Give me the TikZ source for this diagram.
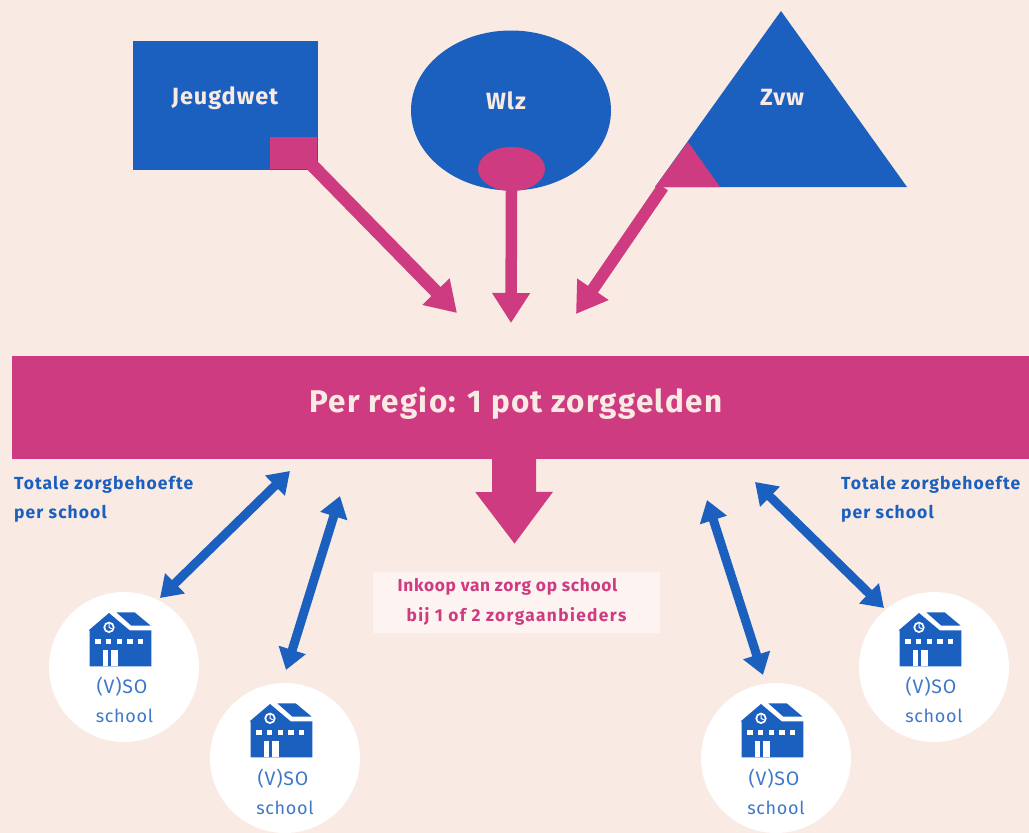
\documentclass[tikz,border=0pt]{standalone}
\usepackage{fontspec}
\setmainfont{Fira Sans}[LetterSpace=4]
\usetikzlibrary{arrows.meta,shapes.geometric,calc}
\definecolor{bgc}{HTML}{F9EAE3}
\definecolor{bluec}{HTML}{1C60BF}
\definecolor{pinkc}{HTML}{CF3B80}
\definecolor{boxc}{HTML}{FDF3F0}
\definecolor{softblue}{HTML}{3F78C8}
\tikzset{
  x=1pt,y=-1pt,
  bluebox/.style={fill=bluec,draw=none,inner sep=0pt,text=bgc},
  pinkbox/.style={fill=pinkc,draw=none,inner sep=0pt},
  headline/.style={text=bgc,font=\fontsize{23.5}{26}\selectfont\bfseries},
  pinkarrow/.style={draw=pinkc,-{Triangle[length=30pt,width=36pt]}},
  bluearrow/.style={draw=bluec,line width=9pt,{Triangle[length=21pt,width=27pt]}-{Triangle[length=21pt,width=27pt]}},
  schoolcircle/.style={circle,fill=white,draw=none,minimum size=150pt,inner sep=0pt},
  schooltext/.style={text=softblue,font=\fontsize{18}{20}\selectfont},
  sotext/.style={text=softblue,font=\fontsize{19.5}{21}\selectfont},
  sidetext/.style={text=bluec,anchor=west,font=\fontsize{17.5}{20}\selectfont\bfseries\addfontfeatures{LetterSpace=6.2}},
  inkoop/.style={text=pinkc,font=\fontsize{17.3}{19}\selectfont\bfseries},
  pics/schoolicon/.style={code={
    \begin{scope}[x=0.3333pt,y=-0.3333pt]
      \fill[bluec] (-106,-110) -- (-45,-162) -- (17,-110) -- (82,-110) -- (82,-2) -- (-103,-2) -- (-103,-110) -- cycle;
      \fill[bluec] (-23,-164) -- (32,-164) -- (80,-124) -- (22,-124) -- cycle;
      \fill[white] (-45,-119) circle (17);
      \fill[bluec] (-45,-119) circle (11);
      \draw[white,line width=1pt] (-45,-129) -- (-45,-119) -- (-37,-115);
      \foreach \wx in {-78,-46,-14,18,50}
        \fill[white] (\wx-8,-84) rectangle (\wx+8,-68);
      \fill[white] (-63,-50) rectangle (-48,-2);
      \fill[white] (-40,-50) rectangle (-17,-2);
    \end{scope}
  }}
}
\begin{document}
\begin{tikzpicture}
\useasboundingbox (0,0) rectangle (1029,833);
\fill[bgc] (0,0) rectangle (1029,833);

% top shapes
\node[bluebox,minimum width=185pt,minimum height=129pt] (jeugd) at (225.5,105.5) {};
\node[headline] (jeugdt) at (225,98) {Jeugdwet};
\node[pinkbox,minimum width=47pt,minimum height=32pt] (jp) at (293.5,153) {};

\node[ellipse,bluebox,minimum width=200pt,minimum height=160pt] (wlz) at (511,110.5) {};
\node[headline] (wlzt) at (506,101) {Wlz};
\node[ellipse,pinkbox,minimum width=67pt,minimum height=44pt] (wp) at (511.5,169) {};

\coordinate (tA) at (781,11);
\coordinate (tL) at (655,187);
\coordinate (tR) at (907,187);
\coordinate (pT) at (688,142);
\coordinate (pR) at (720,187);
\fill[bluec] (tA) -- (tL) -- (tR) -- cycle;
\fill[pinkc] (tL) -- (pT) -- (pR) -- cycle;
\node[headline] (zvwt) at (782,97) {Zvw};

% central band
\node[pinkbox,minimum width=1017pt,minimum height=103pt] (pot) at (520.5,407.5) {};
\node[text=bgc,font=\fontsize{31.4}{36}\selectfont\bfseries] (pott) at (516,403) {Per regio: 1 pot zorggelden};

% pink connectors
\coordinate (a1s) at (310,163);
\coordinate (a1e) at (457,313);
\coordinate (a2e) at (511,323);
\coordinate (a3s) at (663,187);
\coordinate (a3e) at (576,314);
\draw[pinkarrow,line width=13pt] (a1s) -- (a1e);
\draw[pinkarrow,line width=11.5pt] (wp.south) -- (a2e);
\draw[pinkarrow,line width=12pt] (a3s) -- (a3e);

% big down arrow
\coordinate (bigs) at (514,459);
\coordinate (bige) at (514.5,544);
\draw[draw=pinkc,line width=44pt,-{Triangle[length=52pt,width=74pt]}] (bigs) -- (bige);

% inkoop box
\node[fill=boxc,draw=none,minimum width=287pt,minimum height=61pt,inner sep=0pt] (ink) at (516.5,602.5) {};
\node[inkoop] (ink1) at (507.5,587) {Inkoop van zorg op school};
\node[inkoop] (ink2) at (516.5,616) {\addfontfeatures{LetterSpace=8}bij 1 of 2 zorgaanbieders};

% side labels
\node[sidetext,inner sep=0pt] (l1) at (14,485) {Totale zorgbehoefte};
\node[sidetext,inner sep=0pt] (l2) at (14,514) {per school};
\node[sidetext,inner sep=0pt] (r1) at (841,485) {Totale zorgbehoefte};
\node[sidetext,inner sep=0pt] (r2) at (841,514) {per school};

% schools
\node[schoolcircle] (s1) at (124,667) {};
\node[schoolcircle] (s2) at (285,758) {};
\node[schoolcircle] (s3) at (776,758) {};
\node[schoolcircle] (s4) at (934,667) {};
\pic at (s1) {schoolicon};
\pic at (s2) {schoolicon};
\pic at (s3) {schoolicon};
\pic at (s4) {schoolicon};
\node[sotext] (s1a) at (122,687) {(V)SO};
\node[schooltext] (s1b) at (124.5,716) {school};
\node[sotext] (s2a) at (283,779) {(V)SO};
\node[schooltext] (s2b) at (285,808) {school};
\node[sotext] (s3a) at (774,779) {(V)SO};
\node[schooltext] (s3b) at (776,808) {school};
\node[sotext] (s4a) at (931,687) {(V)SO};
\node[schooltext] (s4b) at (934,716) {school};

% blue connectors
\coordinate (b1a) at (290,471);
\coordinate (b1b) at (160,598);
\coordinate (b2a) at (340,496);
\coordinate (b2b) at (286,670);
\coordinate (b3a) at (707,500);
\coordinate (b3b) at (763,675);
\coordinate (b4a) at (755,482);
\coordinate (b4b) at (884,608);
\draw[bluearrow] (b1a) -- (b1b);
\draw[bluearrow] (b2a) -- (b2b);
\draw[bluearrow] (b3a) -- (b3b);
\draw[bluearrow] (b4a) -- (b4b);
\end{tikzpicture}
\end{document}
